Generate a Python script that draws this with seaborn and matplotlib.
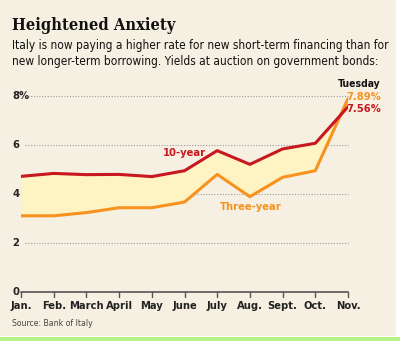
import matplotlib
matplotlib.use("Agg")
import matplotlib.pyplot as plt
import seaborn as sns
import pandas as pd
from matplotlib.patches import Rectangle

months = ["Jan.", "Feb.", "March", "April", "May", "June", "July", "Aug.", "Sept.", "Oct.", "Nov."]
ten_year = [4.72, 4.84, 4.79, 4.80, 4.71, 4.95, 5.77, 5.21, 5.84, 6.07, 7.56]
three_year = [3.11, 3.11, 3.24, 3.44, 3.44, 3.67, 4.80, 3.89, 4.68, 4.95, 7.89]
y_ticks = [0, 2, 4, 6, 8]

RED = "#c8171e"
ORANGE = "#f7921e"
FILL = "#fdf3c3"
BG = "#f6f0e3"

sns.set_theme(style="white")
plt.rcParams["font.family"] = ["DejaVu Sans"]
plt.rcParams["font.stretch"] = "condensed"

df = pd.DataFrame({"idx": range(len(months)), "ten": ten_year, "three": three_year})

fig = plt.figure(figsize=(4.0, 3.41), dpi=100, facecolor="white")
# cream panel and the strip along the bottom
fig.patches.append(Rectangle((0, 5 / 341), 396 / 400, 1, transform=fig.transFigure,
                             facecolor=BG, edgecolor="none", zorder=-10))
fig.patches.append(Rectangle((0, 0), 1, 4 / 341, transform=fig.transFigure,
                             facecolor="#b6f28c", edgecolor="none", zorder=-10))

W, H = 400, 341
x0, x1 = 21, 348
y0, y8 = 292, 96
ax = fig.add_axes([x0 / W, (H - y0) / H, (x1 - x0) / W, (y0 - y8) / H])
ax.set_facecolor("none")
ax.set_xlim(0, len(months) - 1)
ax.set_ylim(0, 8)

for v in y_ticks[1:]:
    ax.plot([0.12, len(months) - 1], [v, v], color="#9a9a9a", lw=0.8,
            ls=(0, (1, 1.5)), zorder=1, clip_on=False)

ax.fill_between(df["idx"], df["three"], df["ten"], color=FILL, lw=0, zorder=2)
sns.lineplot(data=df, x="idx", y="ten", color=RED, lw=2.2, ax=ax, zorder=4)
sns.lineplot(data=df, x="idx", y="three", color=ORANGE, lw=2.2, ax=ax, zorder=3)

for s in ax.spines.values():
    s.set_visible(False)
ax.set_xlabel("")
ax.set_ylabel("")
ax.set_xticks([])
ax.set_yticks([])

# baseline with month ticks
ax.plot([0, len(months) - 1], [0, 0], color="#555555", lw=1.2, clip_on=False, zorder=5)
for i, m in enumerate(months):
    ax.plot([i, i], [0, -0.2], color="#555555", lw=1.0, clip_on=False, zorder=5)
    ax.text(i, -0.38, m, ha="center", va="top", fontsize=8, fontweight="bold",
            color="#222222")

for v in y_ticks:
    lab = "8%" if v == 8 else str(v)
    ax.text(-0.27, v, lab, ha="left", va="center", fontsize=8, fontweight="bold",
            color="#222222", transform=ax.transData)

ax.text(5.0, 5.67, "10-year", color=RED, ha="center", va="center", fontsize=8,
        fontweight="bold")
ax.text(7.03, 3.45, "Three-year", color=ORANGE, ha="center", va="center", fontsize=8,
        fontweight="bold")

fig.text(381 / W, 1 - 84 / H, "Tuesday", ha="right", va="center", fontsize=7.5,
         fontweight="bold", color="#111111")
fig.text(381 / W, 1 - 97 / H, f"{three_year[-1]:.2f}%", ha="right", va="center",
         fontsize=8, fontweight="bold", color=ORANGE)
fig.text(381 / W, 1 - 109 / H, f"{ten_year[-1]:.2f}%", ha="right", va="center",
         fontsize=8, fontweight="bold", color=RED)

fig.text(12 / W, 1 - 26 / H, "Heightened Anxiety", ha="left", va="center",
         fontsize=11.8, fontweight="bold", family=["DejaVu Serif"], color="#111111")
fig.text(12 / W, 1 - 46 / H,
         "Italy is now paying a higher rate for new short-term financing than for",
         ha="left", va="center", fontsize=8.6, color="#111111")
fig.text(12 / W, 1 - 61 / H,
         "new longer-term borrowing. Yields at auction on government bonds:",
         ha="left", va="center", fontsize=8.6, color="#111111")
fig.text(12 / W, 1 - 323 / H, "Source: Bank of Italy", ha="left", va="center",
         fontsize=6.2, color="#444444")

fig.savefig("out.png", dpi=100, facecolor=fig.get_facecolor())
